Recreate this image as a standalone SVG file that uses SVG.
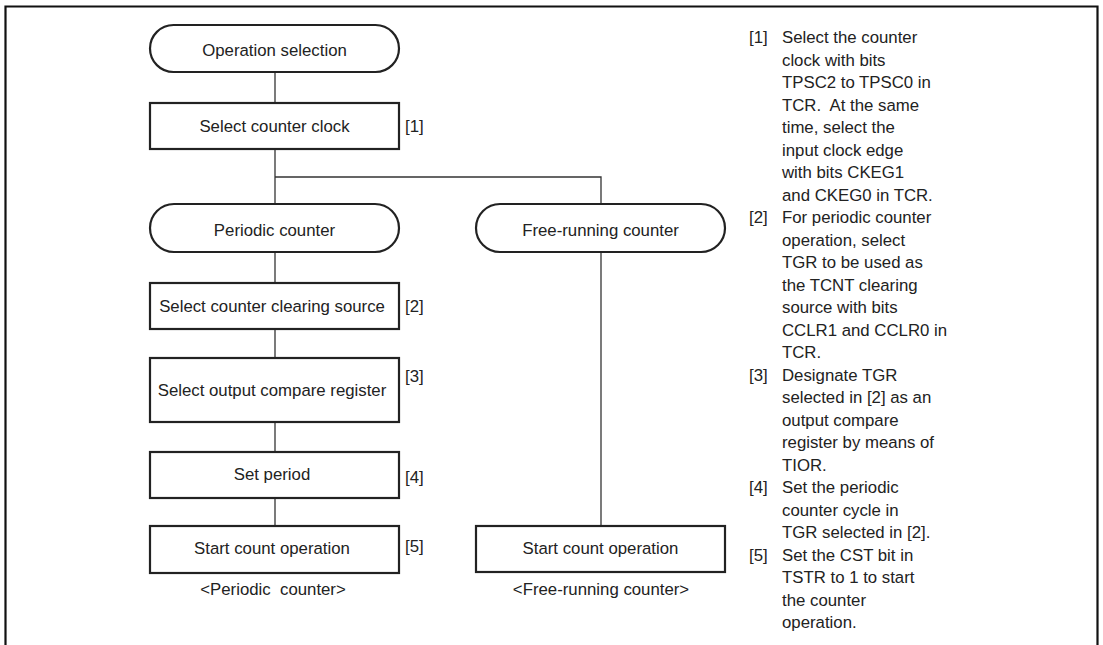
<svg xmlns="http://www.w3.org/2000/svg" width="1103" height="645" viewBox="0 0 1103 645">
<style>
text{font-family:"Liberation Sans",Arial,sans-serif;font-size:16.8px;fill:#222}
.c{text-anchor:middle}
.box{fill:#fff;stroke:#222;stroke-width:2.2}
.ln{fill:none;stroke:#333;stroke-width:1.3}
</style>
<rect width="1103" height="645" fill="#fff"/>
<path d="M5.5,647 V6.5 H1097.5 V647" fill="none" stroke="#111" stroke-width="2.2"/>
<g id="connectors">
<path class="ln" d="M275,72 V103"/>
<path class="ln" d="M275,149 V204"/>
<path class="ln" d="M275,177 H601 V204"/>
<path class="ln" d="M275,252 V283"/>
<path class="ln" d="M275,329 V358"/>
<path class="ln" d="M275,422 V452"/>
<path class="ln" d="M275,498 V526"/>
<path class="ln" d="M601,252 V526"/>
</g>
<g id="op-select"><rect class="box" x="150" y="25" width="249" height="47" rx="23.5"/><text class="c" x="274.5" y="56">Operation selection</text></g>
<g id="sel-clock"><rect class="box" x="150" y="103" width="249" height="46"/><text class="c" x="274.5" y="132">Select counter clock</text><text x="405" y="132">[1]</text></g>
<g id="periodic"><rect class="box" x="150" y="204" width="249" height="48" rx="24"/><text class="c" x="274.5" y="236">Periodic counter</text></g>
<g id="free"><rect class="box" x="476" y="204" width="249" height="48" rx="24"/><text class="c" x="600.5" y="236">Free-running counter</text></g>
<g id="clear-src"><rect class="box" x="150" y="283" width="249" height="46"/><text class="c" x="272" y="312">Select counter clearing source</text><text x="405" y="312">[2]</text></g>
<g id="out-cmp"><rect class="box" x="150" y="358" width="249" height="64"/><text class="c" x="272" y="396">Select output compare register</text><text x="405" y="382">[3]</text></g>
<g id="set-period"><rect class="box" x="150" y="452" width="249" height="46"/><text class="c" x="272" y="480">Set period</text><text x="405" y="483">[4]</text></g>
<g id="start-periodic"><rect class="box" x="150" y="526" width="249" height="47"/><text class="c" x="272" y="554">Start count operation</text><text x="405" y="552">[5]</text></g>
<g id="start-free"><rect class="box" x="476" y="526" width="249" height="46"/><text class="c" x="600.5" y="554">Start count operation</text></g>
<text class="c" x="273" y="595" xml:space="preserve">&lt;Periodic  counter&gt;</text>
<text class="c" x="601" y="595">&lt;Free-running counter&gt;</text>
<g id="notes">
<text x="749" y="43">[1]</text>
<text x="782" y="43">Select the counter</text>
<text x="782" y="65.5">clock with bits</text>
<text x="782" y="88">TPSC2 to TPSC0 in</text>
<text x="782" y="110.5" xml:space="preserve">TCR.  At the same</text>
<text x="782" y="133">time, select the</text>
<text x="782" y="155.5">input clock edge</text>
<text x="782" y="178">with bits CKEG1</text>
<text x="782" y="200.5">and CKEG0 in TCR.</text>
<text x="749" y="223">[2]</text>
<text x="782" y="223">For periodic counter</text>
<text x="782" y="245.5">operation, select</text>
<text x="782" y="268">TGR to be used as</text>
<text x="782" y="290.5">the TCNT clearing</text>
<text x="782" y="313">source with bits</text>
<text x="782" y="335.5">CCLR1 and CCLR0 in</text>
<text x="782" y="358">TCR.</text>
<text x="749" y="380.5">[3]</text>
<text x="782" y="380.5">Designate TGR</text>
<text x="782" y="403">selected in [2] as an</text>
<text x="782" y="425.5">output compare</text>
<text x="782" y="448">register by means of</text>
<text x="782" y="470.5">TIOR.</text>
<text x="749" y="493">[4]</text>
<text x="782" y="493">Set the periodic</text>
<text x="782" y="515.5">counter cycle in</text>
<text x="782" y="538">TGR selected in [2].</text>
<text x="749" y="560.5">[5]</text>
<text x="782" y="560.5">Set the CST bit in</text>
<text x="782" y="583">TSTR to 1 to start</text>
<text x="782" y="605.5">the counter</text>
<text x="782" y="628">operation.</text>
</g>
</svg>
